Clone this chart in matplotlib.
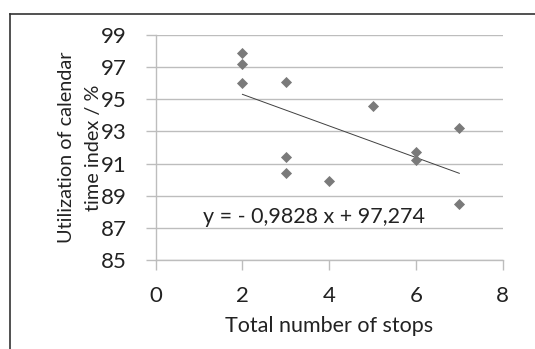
import numpy as np
from matplotlib import pyplot as plt
from matplotlib.lines import Line2D

plt.rcParams['font.family'] = ['Lato', 'DejaVu Sans']

# data
stops = [2, 2, 2, 3, 3, 3, 4, 5, 6, 6, 7, 7]
util = [97.9, 97.2, 96.0, 96.1, 91.4, 90.4, 89.9, 94.6, 91.7, 91.2, 93.2, 88.5]
slope = -0.9828
intercept = 97.274
x_ticks = [0, 2, 4, 6, 8]
y_ticks = [85, 87, 89, 91, 93, 95, 97, 99]

grid_col = "#bdbdbd"
mark_col = "#7a7a7a"
txt_col = "#222222"

fig = plt.figure(figsize=(5.35, 3.49), dpi=100)
ax = fig.add_axes([0.291, 0.255, 0.6486, 0.6447])

ax.scatter(stops, util, marker="D", s=32, color=mark_col, zorder=3, linewidths=0)

xs = np.array([min(stops), max(stops)])
ax.plot(xs, slope * xs + intercept, color="#404040", lw=0.7, zorder=2)

ax.text(1.08, 87.65, "y = - 0,9828 x + 97,274", fontsize=15.5, va="center",
        color=txt_col)

ax.set_xlim(0, 8)
ax.set_ylim(85, 99)
ax.set_xticks(x_ticks)
ax.set_yticks(y_ticks)
ax.yaxis.grid(True, color=grid_col, lw=1)
ax.set_axisbelow(True)
for s in ["top", "right"]:
    ax.spines[s].set_visible(False)
for s in ["left", "bottom"]:
    ax.spines[s].set_color(grid_col)
    ax.spines[s].set_linewidth(1)
ax.tick_params(axis="both", colors=grid_col, labelcolor=txt_col,
               labelsize=16, length=7, width=1)
ax.tick_params(axis="y", pad=14)
ax.tick_params(axis="x", pad=12)

ax.set_xlabel("Total number of stops", fontsize=15.5, color=txt_col, labelpad=7)
ax.set_ylabel("Utilization of calendar\ntime index / %", fontsize=14.3,
              color=txt_col, linespacing=1.7)
ax.yaxis.set_label_coords(-0.155, 0.5)

# border on the top and left of the figure
fig.add_artist(Line2D([10 / 535, 1], [1 - 13.5 / 349] * 2, color="#333333", lw=1.2))
fig.add_artist(Line2D([10 / 535] * 2, [0, 1 - 13.5 / 349], color="#333333", lw=1.2))

fig.savefig("out.png", dpi=100)
